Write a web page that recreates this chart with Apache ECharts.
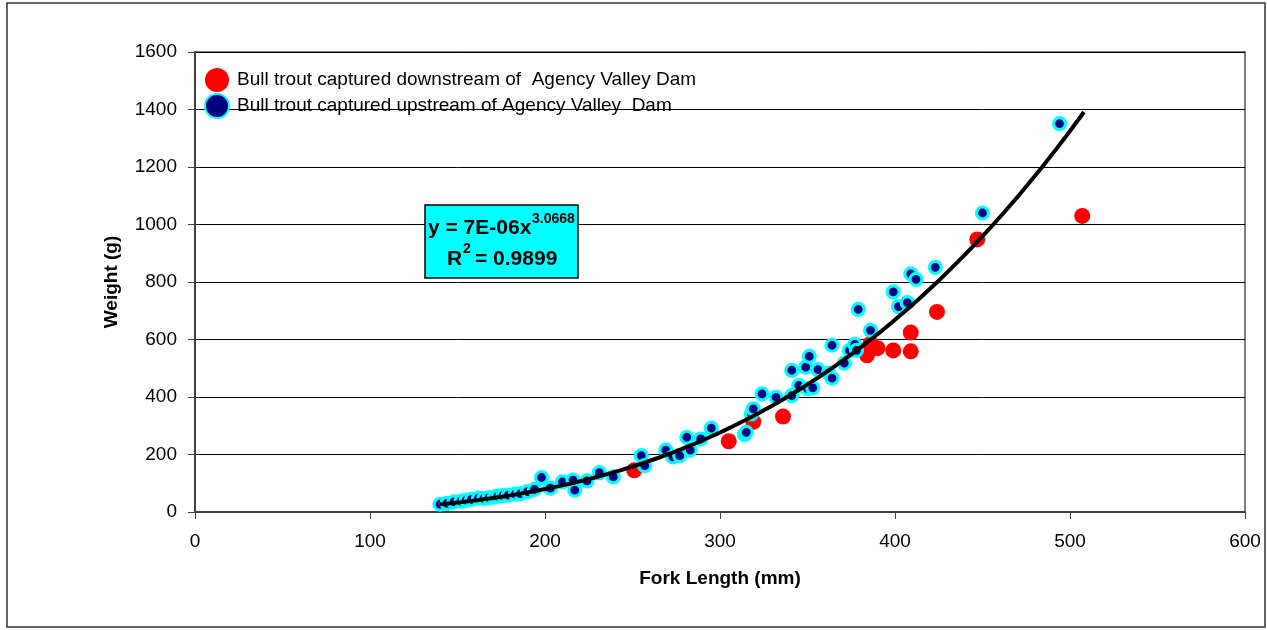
<!DOCTYPE html>
<html>
<head>
<meta charset="utf-8">
<script src="https://cdn.jsdelivr.net/npm/echarts@6/dist/echarts.min.js"></script>
<style>
html,body{margin:0;padding:0;background:#fff;}
#chart{width:1267px;height:630px;}
</style>
</head>
<body>
<div id="chart"></div>
<script>
// ---- Data ----
var downstreamName = 'Bull trout captured downstream of  Agency Valley Dam';
var upstreamName = 'Bull trout captured upstream of Agency Valley  Dam';

// [fork length (mm), weight (g)]
var downstream = [
  [251,145],[305,246],[319,314],[336,332],[384,545],[386,585],[390,570],
  [399,562],[409,559],[409,624],[424,696],[447,948],[507,1030]
];
var upstream = [
  [140,27],[144,30],[148,35],[152,38],[155,41],[158,44],[162,48],[165,47],
  [168,50],[171,52],[173,55],[176,57],[179,59],[183,62],[186,64],[190,71],
  [194,79],[198,120],[203,83],[210,105],[216,111],[217,76],[224,108],[231,137],
  [239,122],[255,196],[257,161],[269,215],[273,192],[277,196],[281,260],[283,215],
  [289,254],[295,292],[314,269],[315,277],[318,341],[319,359],[324,411],[332,399],
  [341,405],[341,493],[345,440],[349,504],[350,429],[351,541],[353,432],[356,495],
  [362,483],[364,580],[364,466],[371,518],[374,562],[377,583],[378,562],[379,705],
  [386,632],[399,766],[402,714],[407,728],[409,828],[412,809],[423,851],[450,1040],
  [494,1351]
];

// Power trendline shown on the chart: y = 7E-06 x^3.0668
var trendCoef = 7e-6;
var trendExp = 3.0668;
var trendStart = 140, trendEnd = 508, trendStep = 2;
var trend = [];
for (var x = trendStart; x <= trendEnd; x += trendStep) {
  trend.push([x, trendCoef * Math.pow(x, trendExp)]);
}

var xTicks = {min: 0, max: 600, interval: 100};
var yTicks = {min: 0, max: 1600, interval: 200};

var FONT = "'Liberation Sans', Arial, sans-serif";
var chart = echarts.init(document.getElementById('chart'));
var ellipse = 'path://M0,10a10,10 0 1,0 20,0a10,10 0 1,0 -20,0z';

chart.setOption({
  backgroundColor: '#ffffff',
  animation: false,
  textStyle: {fontFamily: FONT, color: '#000'},
  grid: {left: 195, right: 22, top: 52, bottom: 118, show: true,
         borderColor: '#808080', borderWidth: 2, backgroundColor: 'transparent'},
  legend: {
    data: [
      {name: downstreamName, textStyle: {padding: [0, 0, 14, 0]}},
      {name: upstreamName, textStyle: {padding: [0, 0, 6, 0]}}
    ],
    orient: 'vertical', left: 199, top: 63,
    itemWidth: 30, itemHeight: 24, itemGap: 1,
    textStyle: {fontSize: 19, fontFamily: FONT, color: '#000'}
  },
  xAxis: {
    type: 'value', min: xTicks.min, max: xTicks.max, interval: xTicks.interval,
    name: 'Fork Length (mm)', nameLocation: 'middle', nameGap: 57,
    nameTextStyle: {fontSize: 19, fontWeight: 'bold', fontFamily: FONT, color: '#000'},
    axisLine: {onZero: false, lineStyle: {color: '#404040', width: 2}},
    axisTick: {show: true, length: 7, lineStyle: {color: '#404040', width: 1}},
    axisLabel: {fontSize: 19, margin: 20, color: '#000', fontFamily: FONT,
                formatter: function (v) { return String(v); }},
    splitLine: {show: false}
  },
  yAxis: {
    type: 'value', min: yTicks.min, max: yTicks.max, interval: yTicks.interval,
    name: 'Weight (g)', nameLocation: 'middle', nameGap: 74,
    nameTextStyle: {fontSize: 19, fontWeight: 'bold', fontFamily: FONT, color: '#000'},
    axisLine: {show: true, onZero: false, lineStyle: {color: '#404040', width: 2}},
    axisTick: {show: true, length: 7, lineStyle: {color: '#404040', width: 1}},
    axisLabel: {fontSize: 19, margin: 18, color: '#000', fontFamily: FONT,
                formatter: function (v) { return String(v); }},
    splitLine: {show: true, lineStyle: {color: '#000', width: 1}}
  },
  series: [
    {
      name: downstreamName, type: 'scatter', data: downstream,
      symbolSize: 16, z: 2,
      itemStyle: {color: '#ff0000', opacity: 1},
      legendIcon: ellipse
    },
    {
      name: upstreamName, type: 'scatter', data: upstream,
      symbolSize: 12, z: 3,
      itemStyle: {color: '#000080', borderColor: '#00ffff', borderWidth: 3.2, opacity: 1},
      legendIcon: ellipse
    },
    {
      name: 'trend', type: 'line', data: trend, showSymbol: false, smooth: false,
      z: 4, silent: true,
      lineStyle: {color: '#000', width: 4}
    }
  ],
  graphic: [
    {type: 'rect', z: -1, silent: true,
     shape: {x: 7, y: 3, width: 1258, height: 624},
     style: {fill: 'none', stroke: '#333', lineWidth: 1.5}},
    {type: 'rect', z: 10, silent: true,
     shape: {x: 425, y: 205, width: 153, height: 73},
     style: {fill: '#00ffff', stroke: '#000', lineWidth: 1.5}},
    {type: 'text', x: 428, y: 228, z: 11,
     style: {text: 'y = 7E-06x', font: 'bold 21px ' + FONT, fill: '#000', verticalAlign: 'middle'}},
    {type: 'text', x: 532, y: 219, z: 11,
     style: {text: '3.0668', font: 'bold 14px ' + FONT, fill: '#000', verticalAlign: 'middle'}},
    {type: 'text', x: 447, y: 259, z: 11,
     style: {text: 'R', font: 'bold 21px ' + FONT, fill: '#000', verticalAlign: 'middle'}},
    {type: 'text', x: 463, y: 249, z: 11,
     style: {text: '2', font: 'bold 14px ' + FONT, fill: '#000', verticalAlign: 'middle'}},
    {type: 'text', x: 475, y: 259, z: 11,
     style: {text: '= 0.9899', font: 'bold 21px ' + FONT, fill: '#000', verticalAlign: 'middle'}}
  ]
});
</script>
</body>
</html>
